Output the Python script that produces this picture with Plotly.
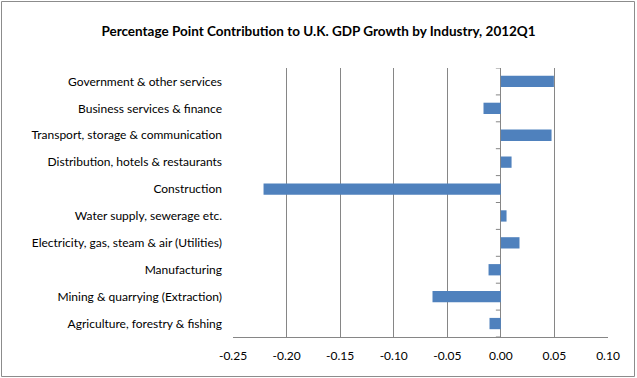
import plotly.graph_objects as go

industries = [
    "Agriculture, forestry & fishing",
    "Mining & quarrying (Extraction)",
    "Manufacturing",
    "Electricity, gas, steam & air (Utilities)",
    "Water supply, sewerage etc.",
    "Construction",
    "Distribution, hotels & restaurants",
    "Transport, storage & communication",
    "Business services & finance",
    "Government & other services",
]
contributions = [-0.0106, -0.0638, -0.0115, 0.0174, 0.0053, -0.2215, 0.0100, 0.0473, -0.0162, 0.0495]
x_ticks = [-0.25, -0.20, -0.15, -0.10, -0.05, 0.00, 0.05, 0.10]
x_tick_labels = ["-0.25", "-0.20", "-0.15", "-0.10", "-0.05", "0.00", "0.05", "0.10"]

GRID = "#868686"
FONT = "Lato"

fig = go.Figure(go.Bar(
    x=contributions, y=industries, orientation="h",
    marker=dict(color="#4F81BD", line=dict(width=0)),
))

W, H = 637, 378
L, R, T, B = 233, 29, 68, 41
pw, ph = W - L - R, H - T - B

shapes = []
# tick marks on the category axis (drawn at x=0)
for i in range(len(industries) + 1):
    shapes.append(dict(type="line", xref="x", yref="y", xsizemode="pixel", xanchor=0,
                       x0=-5, x1=0, y0=i - 0.5, y1=i - 0.5,
                       line=dict(color=GRID, width=1)))
# outer chart border
shapes.append(dict(type="rect", xref="paper", yref="paper",
                   x0=(1.5 - L) / pw, x1=(W - 2.5 - L) / pw,
                   y0=-(B - 1.5) / ph, y1=1 + (T - 1.5) / ph,
                   line=dict(color="#8C8C8C", width=1), fillcolor="rgba(0,0,0,0)", layer="below"))

fig.update_layout(
    width=W, height=H,
    margin=dict(l=L, r=R, t=T, b=B),
    paper_bgcolor="white", plot_bgcolor="white",
    bargap=0.58,
    showlegend=False,
    title=dict(text="<b>Percentage Point Contribution to U.K. GDP Growth by Industry, 2012Q1</b>",
               x=0.5, xanchor="center", y=1 - 31 / H, yanchor="middle",
               font=dict(family=FONT, size=13.5, color="black")),
    font=dict(family=FONT, size=12, color="black"),
    xaxis=dict(range=[-0.25, 0.10], tickvals=x_ticks, ticktext=x_tick_labels,
               showgrid=True, gridcolor=GRID, gridwidth=1,
               zeroline=True, zerolinecolor=GRID, zerolinewidth=1,
               showline=True, linecolor=GRID, linewidth=1,
               ticks="", ticklabelstandoff=8, fixedrange=True),
    yaxis=dict(showgrid=False, zeroline=False, showline=False, ticks="",
               ticklabelstandoff=10, range=[-0.5, len(industries) - 0.5], fixedrange=True),
    shapes=shapes,
)

fig.write_html("out.html", config={"displayModeBar": False},
               post_script="document.body.style.margin='0';")
